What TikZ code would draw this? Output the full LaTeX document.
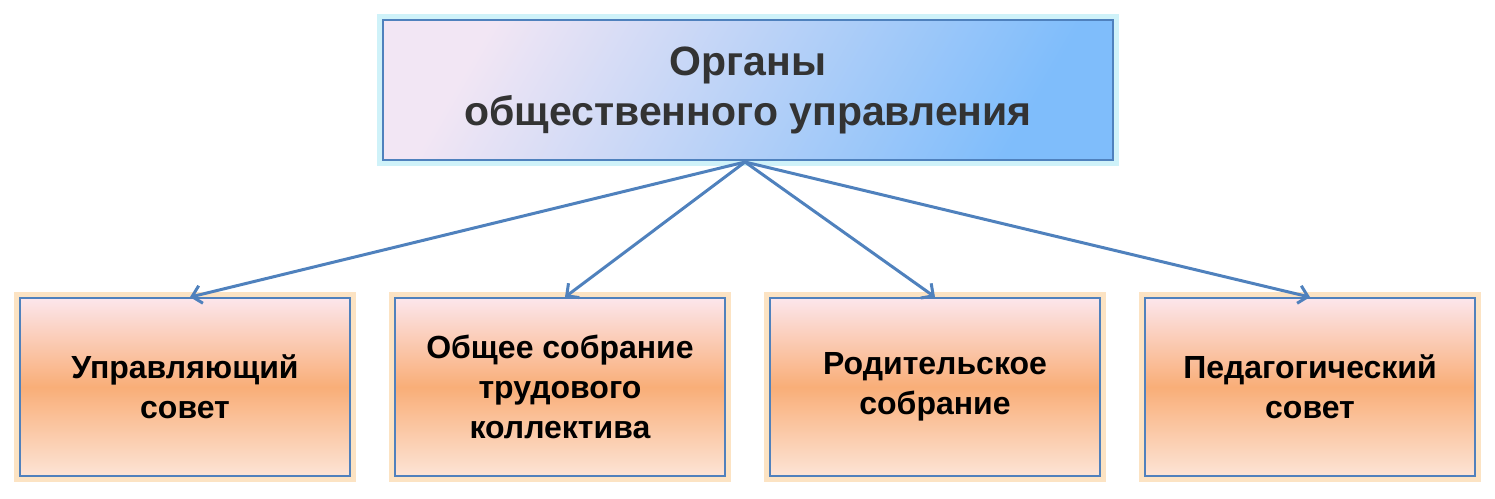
\documentclass[tikz,border=0pt]{standalone}
\usepackage{fontspec}
\setmainfont{Liberation Sans}
\usetikzlibrary{arrows.meta}
\definecolor{edge}{HTML}{4F81BD}
\definecolor{topL}{HTML}{F2E6F4}
\definecolor{topR}{HTML}{7FBDFB}
\definecolor{botT}{HTML}{FCE6EC}
\definecolor{botM}{HTML}{F9AE78}
\definecolor{botB}{HTML}{FCE4D6}
\definecolor{glowB}{HTML}{9FE6F4}
\definecolor{glowO}{HTML}{F9C07A}
\tikzset{
  topbox/.style={draw=edge,line width=1.8pt,minimum width=730pt,minimum height=140pt,
    shading=axis,left color=topL,right color=topR,shading angle=60,
    font=\bfseries\fontsize{41}{50}\selectfont,text=black!80,align=center,
    preaction={draw=glowB,line width=12pt,opacity=0.5}},
  botbox/.style={draw=edge,line width=1.8pt,minimum width=330pt,minimum height=178pt,
    top color=botT,bottom color=botB,middle color=botM,
    font=\bfseries\fontsize{32}{40}\selectfont,align=center,
    preaction={draw=glowO,line width=12pt,opacity=0.45}},
  conn/.style={draw=edge,line width=3pt,-{Straight Barb[length=9pt,width=18pt]}}
}
\begin{document}
\begin{tikzpicture}[x=1pt,y=-1pt]
\useasboundingbox (0,0) rectangle (1495,498);
\node[topbox] (top) at (748,90) {Органы\\общественного управления};
\node[botbox] (b1) at (185,387) {Управляющий\\совет};
\node[botbox] (b2) at (560,387) {Общее собрание\\трудового\\коллектива};
\node[botbox] (b3) at (935,387) {Родительское\\собрание};
\node[botbox] (b4) at (1310,387) {Педагогический\\совет};
\coordinate (s) at (745,162);
\draw[conn] (s) -- ([xshift=5pt]b1.north);
\draw[conn] (s) -- ([xshift=5pt]b2.north);
\draw[conn] (s) -- (b3.north);
\draw[conn] (s) -- (b4.north);
\end{tikzpicture}
\end{document}
